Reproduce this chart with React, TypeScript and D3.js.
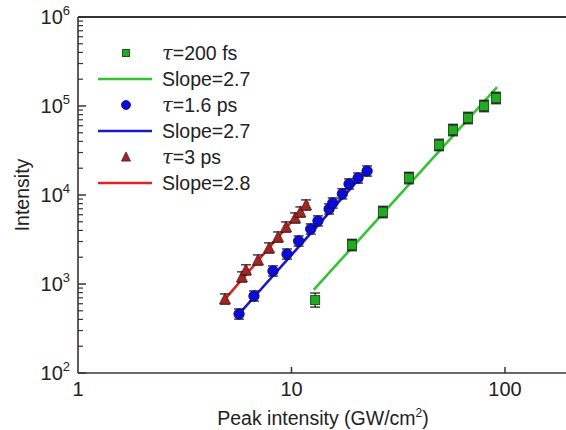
import React from "react";
import * as d3 from "d3";

// tau = 200 fs
const greenX = [12.9, 19.2, 26.8, 35.5, 49.1, 57.1, 67.1, 79.8, 90.8];
const greenY = [660, 2740, 6440, 15500, 36500, 53700, 73300, 100000, 123000];
const greenErr = [0.2, 0.16, 0.16, 0.16, 0.16, 0.16, 0.16, 0.16, 0.16];
const greenFitX = [12.7, 91.8];
const greenFitY = [857, 163000];

// tau = 1.6 ps
const blueX = [5.68, 6.67, 8.19, 9.53, 10.8, 12.3, 13.3, 15.0, 15.6, 17.3, 18.6, 20.5, 22.6];
const blueY = [460, 733, 1400, 2170, 3040, 4150, 5110, 6970, 8130, 10300, 13300, 15500, 18600];
const blueFitX = [5.55, 23];
const blueFitY = [433, 20100];

// tau = 3 ps
const redX = [4.88, 5.86, 6.12, 6.97, 7.85, 8.65, 9.43, 10.4, 11.0, 11.7];
const redY = [678, 1200, 1440, 1860, 2540, 3370, 4370, 5520, 6440, 7720];
const redFitX = [4.75, 12];
const redFitY = [627, 8380];

const xTicks = [1, 10, 100];
const yTicks = [2, 3, 4, 5, 6];
const legendLabels = ["=200 fs", "Slope=2.7", "=1.6 ps", "Slope=2.7", "=3 ps", "Slope=2.8"];

const W = 566;
const H = 430;
const left = 78;
const top = 17;
const bottom = 373;

const AX = "#3a3232";
const FONT = "Liberation Sans, Arial, Helvetica, sans-serif";

const x = d3.scaleLog().domain([1, 200]).range([left, left + 213.5 * Math.log10(200)]);
const y = d3.scaleLog().domain([100, 1e6]).range([bottom, top]);

const C = {
  gFill: "#22aa22",
  gEdge: "#195a19",
  gLine: "#35c335",
  bFill: "#0c0cd6",
  bEdge: "#0a0a70",
  bLine: "#1818cc",
  rFill: "#a02626",
  rEdge: "#5a1414",
  rLine: "#dd2424",
};

const line = d3
  .line<[number, number]>()
  .x((d) => x(d[0]))
  .y((d) => y(d[1]));

const zip = (a: number[], b: number[]) => a.map((v, i) => [v, b[i]] as [number, number]);

function ErrBar({ cx, v, e }: { cx: number; v: number; e: number }) {
  const y0 = y(v * (1 + e));
  const y1 = y(v / (1 + e));
  const cw = 5;
  return (
    <g stroke="#111" strokeWidth={1.2}>
      <line x1={cx} x2={cx} y1={y0} y2={y1} />
      <line x1={cx - cw} x2={cx + cw} y1={y0} y2={y0} />
      <line x1={cx - cw} x2={cx + cw} y1={y1} y2={y1} />
    </g>
  );
}

function Square({ cx, cy, s, fill, edge }: any) {
  return <rect x={cx - s / 2} y={cy - s / 2} width={s} height={s} fill={fill} stroke={edge} strokeWidth={1} />;
}

function Circle({ cx, cy, r, fill, edge }: any) {
  return <circle cx={cx} cy={cy} r={r} fill={fill} stroke={edge} strokeWidth={0.8} />;
}

function Tri({ cx, cy, s, fill, edge }: any) {
  const h = s * 0.9;
  const p = `${cx},${cy - h / 2 - 1} ${cx - s / 2},${cy + h / 2} ${cx + s / 2},${cy + h / 2}`;
  return <polygon points={p} fill={fill} stroke={edge} strokeWidth={0.8} />;
}

export default function App() {
  const minor: number[] = [];
  for (let e = 2; e < 6; e++) {
    for (let k = 2; k <= 9; k++) minor.push(k * Math.pow(10, e));
  }
  const legendRows = [53, 79, 105, 131, 157, 183];
  const lx = 126;
  const tx = 162;

  return (
    <div style={{ position: "absolute", left: 0, top: 0 }}>
      <svg width={W} height={H} style={{ display: "block", background: "#fff" }}>
        {/* fit lines */}
        <path d={line(zip(greenFitX, greenFitY)) || ""} stroke={C.gLine} strokeWidth={2.6} fill="none" />
        <path d={line(zip(blueFitX, blueFitY)) || ""} stroke={C.bLine} strokeWidth={2.6} fill="none" />
        <path d={line(zip(redFitX, redFitY)) || ""} stroke={C.rLine} strokeWidth={2.6} fill="none" />

        {/* green */}
        {greenX.map((v, i) => (
          <g key={"g" + i}>
            <ErrBar cx={x(v)} v={greenY[i]} e={greenErr[i]} />
            <Square cx={x(v)} cy={y(greenY[i])} s={9} fill={C.gFill} edge={C.gEdge} />
          </g>
        ))}
        {/* blue */}
        {blueX.map((v, i) => (
          <g key={"b" + i}>
            <ErrBar cx={x(v)} v={blueY[i]} e={0.14} />
            <Circle cx={x(v)} cy={y(blueY[i])} r={5.2} fill={C.bFill} edge={C.bEdge} />
          </g>
        ))}
        {/* red */}
        {redX.map((v, i) => (
          <g key={"r" + i}>
            <ErrBar cx={x(v)} v={redY[i]} e={0.14} />
            <Tri cx={x(v)} cy={y(redY[i])} s={11} fill={C.rFill} edge={C.rEdge} />
          </g>
        ))}

        {/* axes */}
        <line x1={left} x2={W} y1={bottom} y2={bottom} stroke={AX} strokeWidth={1.6} />
        <line x1={left} x2={W} y1={top} y2={top} stroke={AX} strokeWidth={1.8} />
        <line x1={left} x2={left} y1={top} y2={bottom} stroke={AX} strokeWidth={1.6} />
        {yTicks.map((e) => (
          <g key={"yt" + e}>
            <line x1={left} x2={left + 8} y1={y(Math.pow(10, e))} y2={y(Math.pow(10, e))} stroke={AX} strokeWidth={1.5} />
            <text
              x={left - 8}
              y={y(Math.pow(10, e)) + 7}
              textAnchor="end"
              fontFamily={FONT}
              fontSize={20}
              fill="#222"
            >
              10
              <tspan dy={-9} fontSize={13}>
                {e}
              </tspan>
            </text>
          </g>
        ))}
        {minor.map((v) => (
          <line key={"ym" + v} x1={left} x2={left + 5} y1={y(v)} y2={y(v)} stroke={AX} strokeWidth={1.2} />
        ))}
        {xTicks.map((v) => (
          <g key={"xt" + v}>
            {v > 1 && <line x1={x(v)} x2={x(v)} y1={bottom} y2={bottom - 6} stroke={AX} strokeWidth={1.5} />}
            <text x={x(v)} y={bottom + 23} textAnchor="middle" fontFamily={FONT} fontSize={20} fill="#222">
              {v}
            </text>
          </g>
        ))}

        {/* axis titles */}
        <text x={323} y={425} textAnchor="middle" fontFamily={FONT} fontSize={19.5} fill="#222">
          Peak intensity (GW/cm
          <tspan dy={-8} fontSize={12}>
            2
          </tspan>
          <tspan dy={8}>)</tspan>
        </text>
        <text
          transform={`translate(29,${(top + bottom) / 2}) rotate(-90)`}
          textAnchor="middle"
          fontFamily={FONT}
          fontSize={19.5}
          fill="#222"
        >
          Intensity
        </text>

        {/* legend */}
        <Square cx={lx} cy={legendRows[0]} s={7} fill={C.gFill} edge={C.gEdge} />
        <line x1={98} x2={152} y1={legendRows[1]} y2={legendRows[1]} stroke={C.gLine} strokeWidth={2.6} />
        <Circle cx={lx} cy={legendRows[2]} r={4.5} fill={C.bFill} edge={C.bEdge} />
        <line x1={98} x2={152} y1={legendRows[3]} y2={legendRows[3]} stroke={C.bLine} strokeWidth={2.6} />
        <Tri cx={lx} cy={legendRows[4]} s={9} fill={C.rFill} edge={C.rEdge} />
        <line x1={98} x2={152} y1={legendRows[5]} y2={legendRows[5]} stroke={C.rLine} strokeWidth={2.6} />
        {legendLabels.map((t, i) => (
          <text key={"lg" + i} x={tx} y={legendRows[i] + 7} fontFamily={FONT} fontSize={19.5} fill="#222">
            {i % 2 === 0 && (
              <tspan fontStyle="italic" fontFamily="DejaVu Serif, serif">
                τ
              </tspan>
            )}
            {t}
          </text>
        ))}
      </svg>
    </div>
  );
}
